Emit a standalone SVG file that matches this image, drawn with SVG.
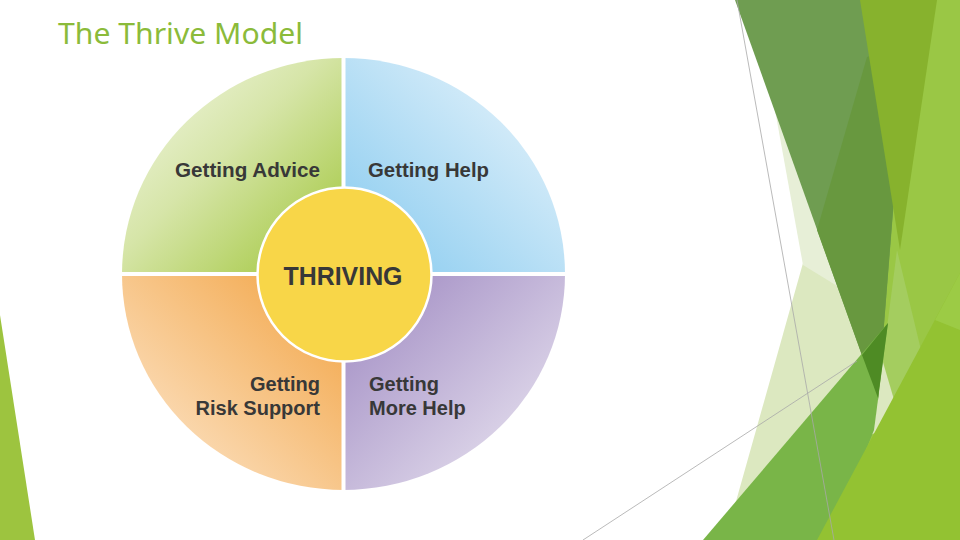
<svg xmlns="http://www.w3.org/2000/svg" width="960" height="540" viewBox="0 0 960 540">
<defs>
<linearGradient id="gTL" x1="0" y1="0" x2="1" y2="1"><stop offset="0" stop-color="#f6f9ec"/><stop offset="0.45" stop-color="#d6e5a8"/><stop offset="1" stop-color="#9dc434"/></linearGradient>
<linearGradient id="gTR" x1="0" y1="1" x2="1" y2="0"><stop offset="0" stop-color="#84c9ef"/><stop offset="1" stop-color="#eff7fc"/></linearGradient>
<linearGradient id="gBL" x1="1" y1="0" x2="0" y2="1"><stop offset="0" stop-color="#f2a240"/><stop offset="1" stop-color="#fdebd6"/></linearGradient>
<linearGradient id="gBR" x1="0" y1="0" x2="1" y2="1"><stop offset="0" stop-color="#9c86c0"/><stop offset="1" stop-color="#f0edf5"/></linearGradient>
<style>
.lbl{font-family:"Liberation Sans",Arial,sans-serif;font-weight:bold;font-size:20px;fill:#383838}
.title{font-family:"Noto Sans","Open Sans",sans-serif;font-size:29px;fill:#8bbb3a}
.sep{stroke:#ffffff;stroke-width:4}
.thin{stroke:#a8a8a8;stroke-width:0.8;fill:none}
</style>
</defs>
<rect width="960" height="540" fill="#ffffff"/>

<g id="decoration">
<polygon points="0,315 35,540 0,540" fill="#9dc43f"/>
<polygon points="880,0 960,0 960,540 850,540 875,400" fill="#9ac745"/>
<polygon points="897,250 921,350 878,440 876,398 888,320" fill="#a4cd5f"/>
<polygon points="803,263 850,250 900,420 735,505" fill="#dce8c0"/>
<polygon points="775,110 830,110 860,300 803,265" fill="#e7efd7"/>
<polygon points="735,0 910,0 878,400" fill="#6f9d51"/>
<polygon points="867,57 906,45 878,400 817,230" fill="#68983f"/>
<polygon points="860,0 937,0 900,250" fill="#87b22d"/>
<polygon points="703,540 888,323 874,430 830,540" fill="#79b548"/>
<polygon points="862,355 888,323 878,398" fill="#4e8b24"/>
<polygon points="817,540 960,273 960,540" fill="#93c232"/>
<polygon points="960,273 960,330 935,320" fill="#9ccb45"/>
<line class="thin" x1="737" y1="0" x2="834" y2="540"/>
<line class="thin" x1="583" y1="540" x2="857" y2="361"/>
</g>

<text class="title" x="58" y="44" textLength="245" lengthAdjust="spacingAndGlyphs">The Thrive Model</text>

<g id="getting-advice">
<path d="M343.5,274 L122,274 A221.5,216 0 0 1 343.5,58 Z" fill="url(#gTL)"/>
<text class="lbl" x="175" y="177" textLength="145" lengthAdjust="spacingAndGlyphs">Getting Advice</text>
</g>
<g id="getting-help">
<path d="M343.5,274 L343.5,58 A221.5,216 0 0 1 565,274 Z" fill="url(#gTR)"/>
<text class="lbl" x="368" y="177" textLength="121" lengthAdjust="spacingAndGlyphs">Getting Help</text>
</g>
<g id="getting-risk-support">
<path d="M343.5,274 L343.5,490 A221.5,216 0 0 1 122,274 Z" fill="url(#gBL)"/>
<text class="lbl" x="320" y="391" text-anchor="end">Getting</text>
<text class="lbl" x="320" y="415" text-anchor="end">Risk Support</text>
</g>
<g id="getting-more-help">
<path d="M343.5,274 L565,274 A221.5,216 0 0 1 343.5,490 Z" fill="url(#gBR)"/>
<text class="lbl" x="369" y="391">Getting</text>
<text class="lbl" x="369" y="415">More Help</text>
</g>
<g id="separators">
<line class="sep" x1="343.5" y1="56" x2="343.5" y2="492"/>
<line class="sep" x1="120" y1="274" x2="567" y2="274"/>
</g>
<g id="thriving">
<circle cx="344.5" cy="274.5" r="87" fill="#f8d648" stroke="#ffffff" stroke-width="2.5"/>
<text class="lbl" x="343" y="285" text-anchor="middle" style="font-size:26px" textLength="119" lengthAdjust="spacingAndGlyphs">THRIVING</text>
</g>
</svg>
